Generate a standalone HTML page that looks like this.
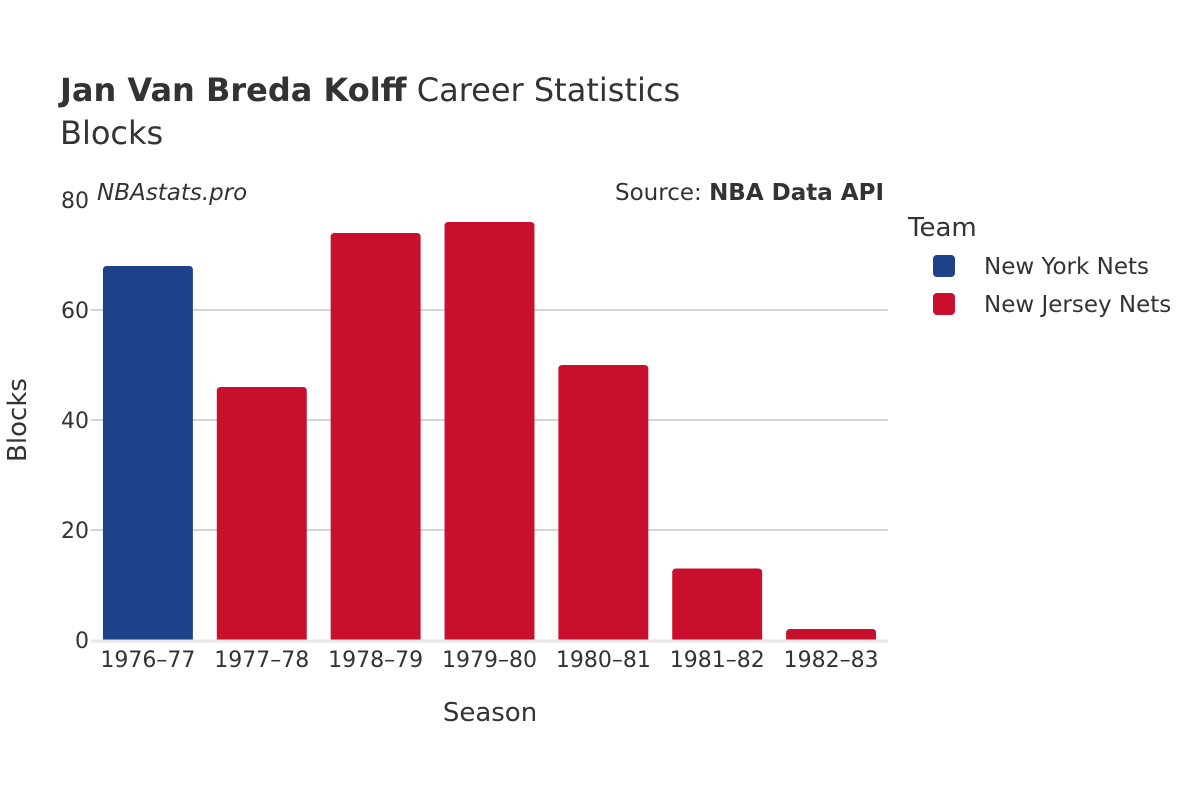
<!DOCTYPE html>
<html><head><meta charset="utf-8"><style>
body{margin:0;background:#fff}
svg text{font-family:"DejaVu Sans","Liberation Sans",sans-serif;fill:#333}
</style></head><body>
<svg id="chart" width="1200" height="800" xmlns="http://www.w3.org/2000/svg">
<rect width="1200" height="800" fill="#fff"/>
<text x="60" y="101" font-size="32"><tspan font-weight="bold">Jan Van Breda Kolff</tspan> Career Statistics</text>
<text x="60" y="144" font-size="32">Blocks</text>
<text x="97" y="200" font-size="23" font-style="italic">NBAstats.pro</text>
<text x="884" y="200" font-size="23" text-anchor="end">Source: <tspan font-weight="bold">NBA Data API</tspan></text>
<g id="grid"></g>
<g id="bars"></g>
<g id="xticks"></g>
<g id="yticks"></g>
<text x="490" y="721" font-size="26" text-anchor="middle">Season</text>
<text transform="translate(26,420) rotate(-90)" font-size="26" text-anchor="middle">Blocks</text>
<g>
<text x="908" y="236" font-size="26">Team</text>
<rect x="933" y="255" width="22" height="22" rx="4" fill="#1d428a"/>
<text x="984" y="274" font-size="23">New York Nets</text>
<rect x="933" y="293" width="22" height="22" rx="4" fill="#c8102e"/>
<text x="984" y="312" font-size="23">New Jersey Nets</text>
</g>
</svg>
<script>
const seasons=["1976–77","1977–78","1978–79","1979–80","1980–81","1981–82","1982–83"];
const blocks=[68,46,74,76,50,13,2];
const teams=["New York Nets","New Jersey Nets","New Jersey Nets","New Jersey Nets","New Jersey Nets","New Jersey Nets","New Jersey Nets"];
const yTicks=[0,20,40,60,80];
const colors={"New York Nets":"#1d428a","New Jersey Nets":"#c8102e"};
const NS="http://www.w3.org/2000/svg";
const x0=91,x1=888,y0=640,yTop=200,yMax=80;
const band=(x1-x0)/seasons.length;
const y=v=>y0-(v/yMax)*(y0-yTop);
function mk(t,a,p){const e=document.createElementNS(NS,t);for(const k in a)e.setAttribute(k,a[k]);p.appendChild(e);return e;}
const grid=document.getElementById('grid'),bars=document.getElementById('bars'),xt=document.getElementById('xticks'),yt=document.getElementById('yticks');
yTicks.forEach(v=>{
  if(v>0&&v<yMax){const l=mk('line',{x1:x0,x2:x1,y1:y(v),y2:y(v),stroke:'#bbb','stroke-width':1.3},grid);
  
  }
  const t=mk('text',{x:x0-2,y:y(v)+8,'font-size':22,'text-anchor':'end'},yt);t.textContent=v;
  
  
});
const bw=band*0.79;
seasons.forEach((s,i)=>{
  const cx=x0+band*(i+0.5),top=y(blocks[i]),h=y0-top,r=Math.min(4,h/2),l=cx-bw/2,rr=cx+bw/2;
  const d=`M${l},${y0}V${top+r}Q${l},${top} ${l+r},${top}H${rr-r}Q${rr},${top} ${rr},${top+r}V${y0}Z`;
  const b=mk('path',{d:d,fill:colors[teams[i]]},bars);
  
  
  const t=mk('text',{x:cx,y:667,'font-size':22,'text-anchor':'middle'},xt);t.textContent=s;
  
  
});
const z=mk('line',{x1:x0,x2:x1,y1:y0+1,y2:y0+1,stroke:'#e6e6e6','stroke-width':3},bars);


</script>
</body></html>
